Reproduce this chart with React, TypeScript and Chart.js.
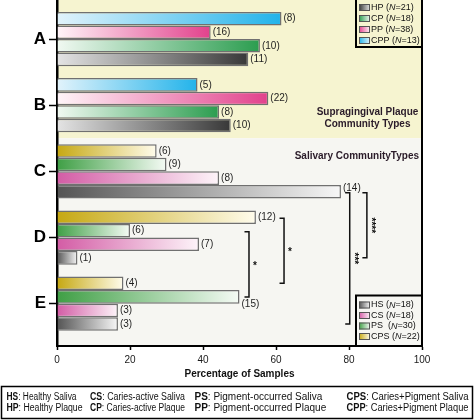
import React, { useEffect, useRef } from 'react';
import { Chart, registerables } from 'chart.js';

Chart.register(...registerables);

// ---------- data ----------
const groups = ['A', 'B', 'C', 'D', 'E'];
// bars listed top-to-bottom inside each group (percentage of samples)
const topSeries = [61.5, 38.5, 27.3, 54.5, 18.2]; // CPP (A,B) / CPS (C–E)
const secondSeries = [42.1, 57.9, 30.0, 20.0, 50.0]; // PP (A,B) / PS (C–E)
const thirdSeries = [55.6, 44.4, 44.4, 38.9, 16.7]; // CP (A,B) / CS (C–E)
const bottomSeries = [52.4, 47.6, 77.8, 5.6, 16.7]; // HP (A,B) / HS (C–E)
// sample counts shown after each bar
const topCounts = [8, 5, 6, 12, 4];
const secondCounts = [16, 22, 9, 6, 15];
const thirdCounts = [10, 8, 8, 7, 3];
const bottomCounts = [11, 10, 14, 1, 3];
const xTickValues = [0, 20, 40, 60, 80, 100];

const plaqueLegend = [
  { code: 'HP', n: '21' },
  { code: 'CP', n: '18' },
  { code: 'PP', n: '38' },
  { code: 'CPP', n: '13' },
];
const salivaLegend = [
  { code: 'HS', n: '18' },
  { code: 'CS', n: '18' },
  { code: 'PS ', n: '30' },
  { code: 'CPS', n: '22' },
];
const keyRow1 = [
  ['HS', ': Healthy Saliva'],
  ['CS', ': Caries-active Saliva'],
  ['PS', ': Pigment-occurred Saliva'],
  ['CPS', ': Caries+Pigment Saliva'],
];
const keyRow2 = [
  ['HP', ': Healthy Plaque'],
  ['CP', ': Caries-active Plaque'],
  ['PP', ': Pigment-occurred Plaque'],
  ['CPP', ': Caries+Pigment Plaque'],
];

// ---------- styles ----------
const FONT = '"Liberation Sans", Arial, Helvetica, sans-serif';
// plaque gradients (dataset order): light (left) -> saturated (right)
const plaqueColors = [
  ['#e2f3fb', '#22b3ea'], // CPP blue
  ['#fff5f9', '#e2418c'], // PP pink
  ['#f1f9f2', '#2b9d4f'], // CP green
  ['#e4e4e4', '#383838'], // HP gray
];
// saliva gradients (dataset order): saturated (left) -> light (right)
const salivaColors = [
  ['#c6a812', '#fffcec'], // CPS yellow
  ['#3f9f45', '#f5fbf5'], // PS green
  ['#d35ca5', '#fdf4f9'], // CS pink
  ['#545454', '#f7f7f7'], // HS gray
];
const legendPlaqueIdx = [3, 2, 1, 0];
const legendSalivaIdx = [3, 2, 1, 0];

const YELLOW_BG = '#f6f4d0';
const LIGHT_BG = '#f6f6f2';

const seriesList = [topSeries, secondSeries, thirdSeries, bottomSeries];
const countList = [topCounts, secondCounts, thirdCounts, bottomCounts];

function makeGradient(ctx: CanvasRenderingContext2D, x0: number, x1: number, c: string[]) {
  const g = ctx.createLinearGradient(x0, 0, Math.max(x1, x0 + 1), 0);
  g.addColorStop(0, c[0]);
  g.addColorStop(1, c[1]);
  return g;
}

const brackets = [
  { x: 52.6, ds: 1, from: 3, to: 4, stars: '*', vertical: false },
  { x: 62.2, ds: 0, from: 3, to: 4, stars: '*', vertical: false },
  { x: 80.2, ds: 3, from: 2, to: 4, stars: '***', vertical: true },
  { x: 84.9, ds: 3, from: 2, to: 3, stars: '****', vertical: true },
];

const decorPlugin = {
  id: 'decor',
  beforeDraw(chart: any) {
    const { ctx, chartArea } = chart;
    const y = chart.scales.y;
    const split = y.getPixelForValue(1.5);
    ctx.save();
    ctx.fillStyle = YELLOW_BG;
    ctx.fillRect(chartArea.left, chartArea.top, chartArea.right - chartArea.left, split - chartArea.top);
    ctx.fillStyle = LIGHT_BG;
    ctx.fillRect(chartArea.left, split, chartArea.right - chartArea.left, chartArea.bottom - split);
    ctx.restore();
  },
  afterDatasetsDraw(chart: any) {
    const { ctx } = chart;
    ctx.save();
    ctx.font = `10px ${FONT}`;
    ctx.fillStyle = '#1e1e1e';
    ctx.textBaseline = 'middle';
    ctx.textAlign = 'left';
    for (let d = 0; d < 4; d++) {
      const meta = chart.getDatasetMeta(d);
      meta.data.forEach((el: any, i: number) => {
        let dy = 0;
        const dx = 2;
        if (d === 1 && i === 4) { dy = 7; }
        if (d === 3 && i === 2) { dy = -3; }
        ctx.fillText(`(${countList[d][i]})`, el.x + dx, el.y + dy);
      });
    }
    ctx.restore();
  },
  afterDraw(chart: any) {
    const { ctx, chartArea } = chart;
    const xs = chart.scales.x;
    ctx.save();
    // right frame line
    ctx.strokeStyle = '#000';
    ctx.lineWidth = 2;
    ctx.beginPath();
    ctx.moveTo(chartArea.right, chartArea.top);
    ctx.lineTo(chartArea.right, chartArea.bottom + 1);
    ctx.stroke();

    // group captions
    ctx.fillStyle = '#2a1b29';
    ctx.font = `bold 10px ${FONT}`;
    ctx.textBaseline = 'middle';
    ctx.textAlign = 'center';
    ctx.fillText('Supragingival Plaque', 367.5, 112);
    ctx.fillText('Community Types', 367.5, 124);
    ctx.textAlign = 'right';
    ctx.fillText('Salivary CommunityTypes', 419, 156);

    // significance brackets
    ctx.strokeStyle = '#111';
    ctx.fillStyle = '#111';
    ctx.lineWidth = 1.5;
    brackets.forEach((b) => {
      const meta = chart.getDatasetMeta(b.ds);
      const y0 = meta.data[b.from].y + 1;
      const y1 = meta.data[b.to].y;
      const bx = xs.getPixelForValue(b.x);
      ctx.beginPath();
      ctx.moveTo(bx - 4.5, y0);
      ctx.lineTo(bx, y0);
      ctx.lineTo(bx, y1);
      ctx.lineTo(bx - 4.5, y1);
      ctx.stroke();
      const my = (y0 + y1) / 2;
      ctx.font = `bold 10px ${FONT}`;
      ctx.textAlign = 'center';
      ctx.textBaseline = 'middle';
      if (b.vertical) {
        ctx.save();
        ctx.translate(bx + 6, my);
        ctx.rotate(Math.PI / 2);
        ctx.fillText(b.stars, 0, 2);
        ctx.restore();
      } else {
        ctx.fillText(b.stars, bx + 6, my + 2);
      }
    });

    // legends inside plot
    const drawLegend = (
      items: { code: string; n: string }[],
      colors: string[][],
      idx: number[],
      box: { x0: number; y0: number; x1: number; y1: number },
      rowY: number[],
      bg: string,
      plaque: boolean,
    ) => {
      ctx.fillStyle = bg;
      ctx.fillRect(box.x0, box.y0, box.x1 - box.x0, box.y1 - box.y0);
      ctx.strokeStyle = '#000';
      ctx.lineWidth = 2;
      ctx.strokeRect(box.x0, box.y0, box.x1 - box.x0, box.y1 - box.y0);
      items.forEach((it, k) => {
        const c = colors[idx[k]];
        const sx = box.x0 + 3;
        const sy = rowY[k] - 3.5;
        const g = ctx.createLinearGradient(sx, 0, sx + 11, 0);
        g.addColorStop(0, plaque ? c[1] : c[0]);
        g.addColorStop(1, plaque ? c[0] : c[1]);
        ctx.fillStyle = g;
        ctx.fillRect(sx, sy, 11, 7);
        ctx.strokeStyle = '#555';
        ctx.lineWidth = 1;
        ctx.strokeRect(sx + 0.5, sy + 0.5, 10, 6);
        ctx.fillStyle = '#111';
        ctx.textAlign = 'left';
        ctx.textBaseline = 'middle';
        let tx = sx + 12;
        ctx.font = `9px ${FONT}`;
        const p1 = `${it.code} (`;
        ctx.fillText(p1, tx, rowY[k]);
        tx += ctx.measureText(p1).width;
        ctx.font = `italic 9px ${FONT}`;
        ctx.fillText('N', tx, rowY[k]);
        tx += ctx.measureText('N').width;
        ctx.font = `9px ${FONT}`;
        ctx.fillText(`=${it.n})`, tx, rowY[k]);
      });
    };
    drawLegend(plaqueLegend, plaqueColors, legendPlaqueIdx,
      { x0: 356, y0: -2, x1: chartArea.right, y1: 47 }, [7.5, 18.5, 29.5, 40.5], YELLOW_BG, true);
    drawLegend(salivaLegend, salivaColors, legendSalivaIdx,
      { x0: 356, y0: 295.5, x1: chartArea.right, y1: chartArea.bottom }, [305, 315.5, 326, 336.5], LIGHT_BG, false);

    // x-axis title
    ctx.fillStyle = '#111';
    ctx.font = `bold 10px ${FONT}`;
    ctx.textAlign = 'center';
    ctx.textBaseline = 'middle';
    ctx.fillText('Percentage of Samples', (chartArea.left + chartArea.right) / 2, 374.5);

    // abbreviation key
    ctx.strokeStyle = '#000';
    ctx.lineWidth = 1.5;
    ctx.strokeRect(1.5, 386.5, 471, 32);
    const colX = [6.5, 90, 194.5, 346.5];
    const drawRow = (row: string[][], y: number, widths: number[]) => {
      row.forEach((item, k) => {
        ctx.font = `bold 10px ${FONT}`;
        const w1 = ctx.measureText(item[0]).width;
        ctx.font = `10px ${FONT}`;
        const w2 = ctx.measureText(item[1]).width;
        const sx = Math.min(1, widths[k] / (w1 + w2));
        ctx.save();
        ctx.translate(colX[k], y);
        ctx.scale(sx, 1);
        ctx.textAlign = 'left';
        ctx.textBaseline = 'middle';
        ctx.fillStyle = '#111';
        ctx.font = `bold 10px ${FONT}`;
        ctx.fillText(item[0], 0, 0);
        ctx.font = `10px ${FONT}`;
        ctx.fillText(item[1], w1, 0);
        ctx.restore();
      });
    };
    drawRow(keyRow1, 397, [70, 95, 136, 122]);
    drawRow(keyRow2, 408.5, [76, 95, 140, 122]);
    ctx.restore();
  },
};

export default function App() {
  const ref = useRef<HTMLCanvasElement | null>(null);
  useEffect(() => {
    document.body.style.margin = '0';
    const canvas = ref.current;
    if (!canvas) return;
    const datasets = seriesList.map((vals, d) => ({
      label: `series${d}`,
      data: vals.map((v, i) => ({ x: v, y: i })),
      backgroundColor: (c: any) => {
        const chart = c.chart;
        const xs = chart.scales?.x;
        const i = c.dataIndex ?? 0;
        const cols = i < 2 ? plaqueColors[d] : salivaColors[d];
        if (!xs || c.type !== 'data') return cols[1];
        const x0 = xs.getPixelForValue(0);
        const x1 = xs.getPixelForValue(vals[i]);
        if (!Number.isFinite(x0) || !Number.isFinite(x1)) return cols[1];
        return makeGradient(chart.ctx, x0, x1, cols);
      },
      borderColor: '#707070',
      borderWidth: 1.5,
      categoryPercentage: 0.82,
      barPercentage: 1,
    }));
    const chart = new Chart(canvas, {
      type: 'bar',
      data: { datasets },
      options: {
        indexAxis: 'y',
        animation: false,
        responsive: false,
        maintainAspectRatio: false,
        devicePixelRatio: 1,
        layout: { padding: { top: 0, left: 0, right: 52, bottom: 0 } },
        plugins: { legend: { display: false }, tooltip: { enabled: false }, title: { display: false } },
        scales: {
          x: {
            type: 'linear',
            min: 0,
            max: 100,
            afterBuildTicks: (s: any) => { s.ticks = xTickValues.map((v) => ({ value: v })); },
            afterFit: (s: any) => { s.height = 74; s.paddingLeft = 0; s.paddingRight = 0; },
            ticks: { font: { family: FONT, size: 10 }, color: '#1a1a1a', padding: 4, maxRotation: 0 },
            grid: { drawOnChartArea: false, tickLength: 4, tickColor: '#000', tickWidth: 1.5 },
            border: { display: true, color: '#000', width: 2 },
          },
          y: {
            type: 'linear',
            reverse: true,
            offset: false,
            min: -0.59,
            max: 4.64,
            afterBuildTicks: (s: any) => { s.ticks = groups.map((_, i) => ({ value: i })); },
            afterFit: (s: any) => { s.width = 57; s.paddingTop = 0; s.paddingBottom = 0; },
            ticks: {
              callback: (v: any) => groups[Number(v)] ?? '',
              font: { family: FONT, size: 17, weight: 'bold' },
              color: '#000',
              padding: 3,
            },
            grid: { drawOnChartArea: false, offset: false, tickLength: 8, tickColor: '#000', tickWidth: 1.5 },
            border: { display: true, color: '#000', width: 2.5 },
          },
        },
      },
      plugins: [decorPlugin],
    } as any);
    return () => chart.destroy();
  }, []);
  return (
    <div style={{ width: 474, height: 420, position: 'relative' }}>
      <canvas ref={ref} width={474} height={420} style={{ display: 'block', width: 474, height: 420 }} />
    </div>
  );
}
